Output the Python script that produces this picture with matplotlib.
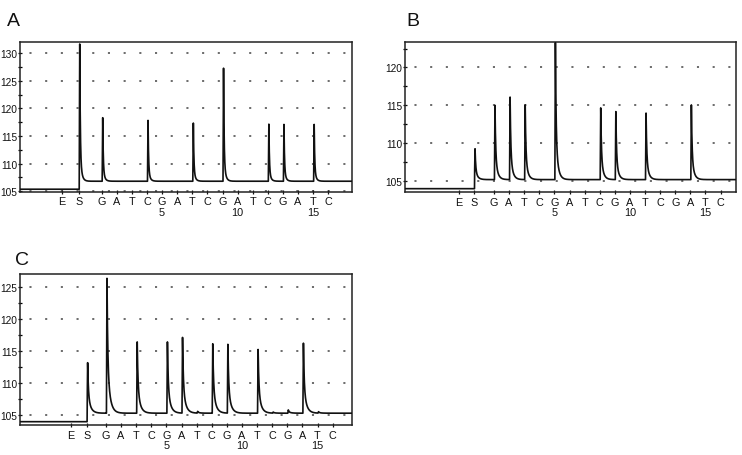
import numpy as np
import matplotlib
matplotlib.use("Agg")
import matplotlib.pyplot as plt
from matplotlib.ticker import MultipleLocator

plt.rcParams['font.family'] = ['Liberation Sans', 'DejaVu Sans']
plt.rcParams['lines.scale_dashes'] = False

# ---------------- data ----------------
disp_labels = ['E', 'S', 'G', 'A', 'T', 'C', 'G', 'A', 'T', 'C',
               'G', 'A', 'T', 'C', 'G', 'A', 'T', 'C']
disp_numbers = ['', '', '', '', '', '', '5', '', '', '',
                '', '10', '', '', '', '', '15', '']

# tick positions of E and S (dispensations 1..16 sit at 1..16)
pos_E = {'A': -1.63, 'B': -1.30, 'C': -1.32}
pos_S = {'A': -0.52, 'B': -0.32, 'C': -0.28}

# baseline before / after substrate addition
base_pre = {'A': 105.35, 'B': 103.95, 'C': 103.95}
base_post = {'A': 106.8, 'B': 105.15, 'C': 105.28}

nan = np.nan
# peak top values: E, S, then dispensations 1..16 (nan = no peak)
peaks_A = [nan, 132.3, 118.6, nan, nan, 118.1, nan, nan, 117.6, nan,
           127.8, nan, nan, 117.4, 117.35, nan, 117.35, nan]
peaks_B = [nan, 109.3, 115.15, 116.25, 115.2, nan, 123.6, nan, nan, 114.8,
           114.3, nan, 114.1, nan, nan, 115.2, nan, nan]
peaks_C = [nan, 113.3, 126.7, nan, 116.6, nan, 116.6, 117.3, 105.55, 116.3,
           116.2, nan, 115.4, 105.45, 105.8, 116.4, 105.5, nan]

yticks_A = [105, 110, 115, 120, 125, 130]
yticks_B = [105, 110, 115, 120]
yticks_C = [105, 110, 115, 120, 125]

# ---------------- layout / style ----------------
W, H = 742, 456
fig = plt.figure(figsize=(W / 100, H / 100), dpi=100)


def px_axes(l, t, r, b):
    return fig.add_axes([l / W, 1 - b / H, (r - l) / W, (b - t) / H])


panels = {
    'A': dict(box=(20, 42.7, 352, 192.7), xlim=(-4.41, 17.57), ylim=(104.9, 132.1),
              peaks=peaks_A, yticks=yticks_A, shape=(0.8, 0.035, 0.11)),
    'B': dict(box=(405, 42.7, 736, 193.3), xlim=(-4.89, 17.02), ylim=(103.47, 123.4),
              peaks=peaks_B, yticks=yticks_B, shape=(0.68, 0.045, 0.15)),
    'C': dict(box=(20, 275, 352, 426), xlim=(-4.69, 17.28), ylim=(103.43, 127.08),
              peaks=peaks_C, yticks=yticks_C, shape=(0.62, 0.05, 0.18)),
}
letters = {'A': (6.5, 26), 'B': (406.5, 26), 'C': (15, 265)}


def kernel(t, a, tau1, tau2, w=0.035):
    k = np.zeros_like(t)
    rise = (t >= 0) & (t < w)
    k[rise] = t[rise] / w
    dec = t >= w
    td = t[dec] - w
    k[dec] = a * np.exp(-td / tau1) + (1 - a) * np.exp(-td / tau2)
    return k


for name, p in panels.items():
    ax = px_axes(*p['box'])
    x0, x1 = p['xlim']
    positions = [pos_E[name], pos_S[name]] + list(range(1, 17))
    x = np.arange(x0, x1 + 0.004, 0.004)
    y = np.where(x < pos_S[name] + 0.03, base_pre[name], base_post[name])
    a, t1, t2 = p['shape']
    for xp, top in zip(positions, p['peaks']):
        if np.isnan(top):
            continue
        y = y + (top - base_post[name]) * kernel(x - (xp + 0.03), a, t1, t2)

    # dotted horizontal grid
    for v in p['yticks']:
        ax.axhline(v, color='#444444', lw=1.1, linestyle=(4.5, (1.5, 9.8)), zorder=1)

    ax.plot(x, y, color='#111111', lw=1.2, zorder=3)

    ax.set_xlim(x0, x1)
    ax.set_ylim(*p['ylim'])
    ax.set_yticks(p['yticks'])
    ax.set_yticklabels([str(v) for v in p['yticks']])
    ax.yaxis.set_minor_locator(MultipleLocator(2.5))
    labels = [l if n == '' else l + '\n' + n for l, n in zip(disp_labels, disp_numbers)]
    ax.set_xticks(positions)
    ax.set_xticklabels(labels)
    ax.tick_params(axis='both', which='major', direction='inout', length=3.5,
                   width=0.9, colors='#111111')
    ax.tick_params(axis='y', which='major', pad=0.2, labelsize=7.3)
    ax.tick_params(axis='x', which='major', pad=1.5, labelsize=7.8)
    ax.tick_params(axis='y', which='minor', direction='inout', length=3, width=0.9)
    for lab in ax.get_xticklabels():
        lab.set_linespacing(1.05)
    for s in ax.spines.values():
        s.set_linewidth(1.1)
        s.set_color('#222222')

    lx, ly = letters[name]
    fig.text(lx / W, 1 - ly / H, name, fontsize=14, va='baseline', ha='left',
             color='#111111')

fig.savefig('out.png', dpi=100)
